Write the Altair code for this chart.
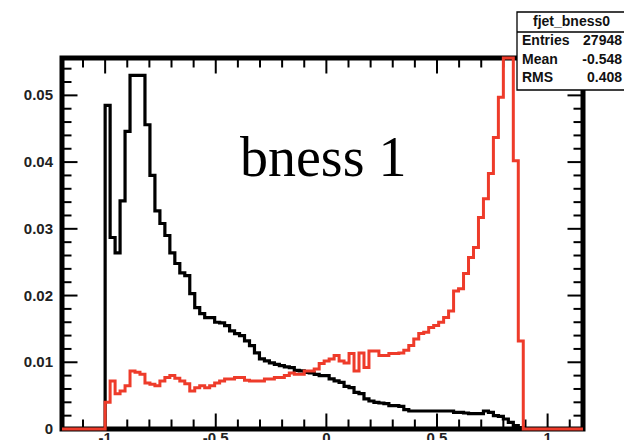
import altair as alt
import pandas as pd

# ---------------- data ----------------
bin_start = -1.0
bin_width = 0.0225

black_vals = [
    0.0485, 0.0287, 0.0264, 0.0342, 0.0446, 0.0530, 0.0530, 0.0530, 0.0456, 0.0380,
    0.0327, 0.0308, 0.0290, 0.0264, 0.0248, 0.0234, 0.0230, 0.0203, 0.0182, 0.0173,
    0.0167, 0.0167, 0.0160, 0.0159, 0.0155, 0.0147, 0.0143, 0.0140, 0.0132, 0.0125,
    0.0114, 0.0105, 0.0102, 0.0099, 0.0097, 0.0095, 0.0093, 0.0092, 0.0088, 0.0087,
    0.0085, 0.0084, 0.0082, 0.0080, 0.0080, 0.0075, 0.0072, 0.0070, 0.0064, 0.0062,
    0.0055, 0.0053, 0.0045, 0.0042, 0.0040, 0.0039, 0.0038, 0.0035, 0.0035, 0.0034,
    0.0029, 0.0027, 0.0027, 0.0027, 0.0027, 0.0027, 0.0027, 0.0027, 0.0027, 0.0027,
    0.0025, 0.0025, 0.0024, 0.0023, 0.0023, 0.0023, 0.0027, 0.0025, 0.0020, 0.0019,
    0.0015, 0.0010, 0.0005, 0.0002,
]

red_vals = [
    0.0040, 0.0072, 0.0053, 0.0057, 0.0065, 0.0087, 0.0085, 0.0082, 0.0069, 0.0067,
    0.0065, 0.0072, 0.0077, 0.0080, 0.0076, 0.0072, 0.0068, 0.0057, 0.0062, 0.0065,
    0.0062, 0.0065, 0.0069, 0.0072, 0.0075, 0.0075, 0.0077, 0.0077, 0.0073, 0.0072,
    0.0072, 0.0072, 0.0075, 0.0075, 0.0077, 0.0077, 0.0080, 0.0084, 0.0082, 0.0082,
    0.0087, 0.0087, 0.0090, 0.0098, 0.0102, 0.0105, 0.0110, 0.0102, 0.0099, 0.0113,
    0.0087, 0.0114, 0.0092, 0.0117, 0.0117, 0.0110, 0.0110, 0.0113, 0.0113, 0.0114,
    0.0118, 0.0125, 0.0135, 0.0143, 0.0145, 0.0152, 0.0155, 0.0160, 0.0167, 0.0177,
    0.0207, 0.0210, 0.0233, 0.0257, 0.0272, 0.0317, 0.0345, 0.0383, 0.0437, 0.0497,
    0.0556, 0.0556, 0.0402, 0.0132,
]

x_lo, x_hi = -1.195, 1.16
y_hi = 0.0556

x_major_ticks = [-1.0, -0.5, 0.0, 0.5, 1.0]
x_tick_labels = ["-1", "-0.5", "0", "0.5", "1"]
x_minor_ticks = [-1.1, -0.9, -0.8, -0.7, -0.6, -0.4, -0.3, -0.2, -0.1,
                 0.1, 0.2, 0.3, 0.4, 0.6, 0.7, 0.8, 0.9, 1.1]

y_major_ticks = [0.0, 0.01, 0.02, 0.03, 0.04, 0.05]
y_tick_labels = ["0", "0.01", "0.02", "0.03", "0.04", "0.05"]
y_minor_ticks = [0.002, 0.004, 0.006, 0.008, 0.012, 0.014, 0.016, 0.018,
                 0.022, 0.024, 0.026, 0.028, 0.032, 0.034, 0.036, 0.038,
                 0.042, 0.044, 0.046, 0.048, 0.052, 0.054]

stat_title = "fjet_bness0"
stat_names = ["Entries", "Mean", "RMS"]
stat_values = ["27948", "-0.548", "0.408"]
plot_label = "bness 1"

# ---------------- layout ----------------
W, H = 521, 371
MAJ, MIN = 15.5, 9.5
RED = "#ee3b2a"
FONT = "Liberation Sans"

xs = alt.Scale(domain=[x_lo, x_hi], nice=False, zero=False)
ys = alt.Scale(domain=[0, y_hi], nice=False, zero=False)


def step_df(vals):
    xs_ = [x_lo] + [bin_start + i * bin_width for i in range(len(vals) + 1)] + [x_hi]
    vs_ = [0.0] + list(vals) + [0.0, 0.0]
    return pd.DataFrame({"x": xs_, "v": vs_})


one = pd.DataFrame({"d": [0]})
X = lambda f: alt.X(f, scale=xs, axis=None)
Y = lambda f: alt.Y(f, scale=ys, axis=None)

layers = []

# ticks
xmaj = pd.DataFrame({"t": x_major_ticks})
xmin = pd.DataFrame({"t": x_minor_ticks})
ymaj = pd.DataFrame({"t": y_major_ticks})
ymin = pd.DataFrame({"t": y_minor_ticks})
tick = dict(color="black", strokeWidth=2)
for df, ln in [(xmaj, MAJ), (xmin, MIN)]:
    layers.append(alt.Chart(df).mark_rule(**tick).encode(
        x=X("t:Q"), y=alt.value(H), y2=alt.value(H - ln)))
    layers.append(alt.Chart(df).mark_rule(**tick).encode(
        x=X("t:Q"), y=alt.value(0), y2=alt.value(ln)))
for df, ln in [(ymaj, MAJ), (ymin, MIN)]:
    layers.append(alt.Chart(df).mark_rule(**tick).encode(
        y=Y("t:Q"), x=alt.value(0), x2=alt.value(ln)))
    layers.append(alt.Chart(df).mark_rule(**tick).encode(
        y=Y("t:Q"), x=alt.value(W), x2=alt.value(W - ln)))

# frame
layers.append(alt.Chart(one).mark_rect(fillOpacity=0, stroke="black", strokeWidth=5).encode(
    x=alt.value(0), x2=alt.value(W), y=alt.value(0), y2=alt.value(H)))

# histograms
layers.append(alt.Chart(step_df(black_vals)).mark_line(
    interpolate="step-after", color="black", strokeWidth=3.2).encode(
    x=X("x:Q"), y=Y("v:Q")))
layers.append(alt.Chart(step_df(red_vals)).mark_line(
    interpolate="step-after", color=RED, strokeWidth=3).encode(
    x=X("x:Q"), y=Y("v:Q")))

# tick labels
lab = dict(font=FONT, fontWeight="bold", fontSize=15, color="#222222")
layers.append(alt.Chart(pd.DataFrame({"t": y_major_ticks, "l": y_tick_labels})).mark_text(
    align="right", baseline="middle", **lab).encode(
    x=alt.value(-9), y=Y("t:Q"), text="l:N"))
layers.append(alt.Chart(pd.DataFrame({"t": x_major_ticks, "l": x_tick_labels})).mark_text(
    align="center", baseline="top", **lab).encode(
    x=X("t:Q"), y=alt.value(373), text="l:N"))

# stats box
BX0, BX1, BY0, BYS, BY1 = 455, 600, -46, -26, 32
layers.append(alt.Chart(one).mark_rect(fill="white", stroke="black", strokeWidth=1.3).encode(
    x=alt.value(BX0), x2=alt.value(BX1), y=alt.value(BY0), y2=alt.value(BY1)))
layers.append(alt.Chart(one).mark_rule(color="black", strokeWidth=1.3).encode(
    x=alt.value(BX0), x2=alt.value(BX1), y=alt.value(BYS)))
st = dict(font=FONT, fontWeight="bold", fontSize=14, color="#111111", baseline="middle")
layers.append(alt.Chart(one).mark_text(align="left", **st).encode(
    x=alt.value(471), y=alt.value(-36), text=alt.value(stat_title)))
row_y = [-17, 2, 20]
for name, val, yy in zip(stat_names, stat_values, row_y):
    layers.append(alt.Chart(one).mark_text(align="left", **st).encode(
        x=alt.value(460), y=alt.value(yy), text=alt.value(name)))
    layers.append(alt.Chart(one).mark_text(align="right", **st).encode(
        x=alt.value(560), y=alt.value(yy), text=alt.value(val)))

# big label
layers.append(alt.Chart(one).mark_text(
    align="left", baseline="alphabetic", font="Liberation Serif", fontSize=56, color="black").encode(
    x=alt.value(178), y=alt.value(118), text=alt.value(plot_label)))

chart = alt.layer(*layers).properties(
    width=W, height=H,
    padding={"left": 54, "top": 50, "right": 41, "bottom": 12},
    autosize=alt.AutoSizeParams(type="none"),
    background="white",
).configure_view(strokeWidth=0)

chart.save("out.html", embed_options={"renderer": "svg", "actions": False})
